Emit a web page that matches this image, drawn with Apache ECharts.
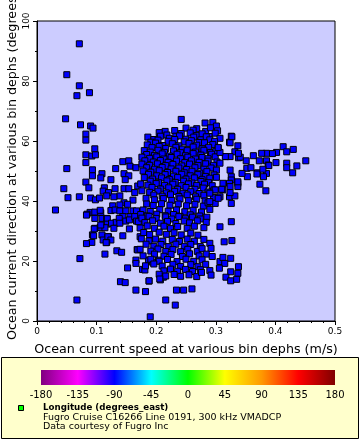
<!DOCTYPE html>
<html>
<head>
<meta charset="utf-8">
<script src="https://cdn.jsdelivr.net/npm/echarts@6/dist/echarts.min.js"></script>
<style>
  html, body { margin: 0; padding: 0; background: #fff; }
  #container { width: 360px; height: 440px; }
</style>
</head>
<body>
<div id="container"></div>
<script>
// speed (m/s), direction (degrees_north)
var outliers = [
  [0.071, 92.4], [0.050, 82.1], [0.071, 78.4], [0.067, 75.1], [0.088, 76.1],
  [0.048, 67.4], [0.242, 67.2], [0.031, 37.0], [0.045, 44.1], [0.050, 50.8],
  [0.052, 41.1], [0.071, 41.4], [0.072, 20.8], [0.067, 7.0], [0.190, 1.4],
  [0.216, 7.0], [0.232, 5.3]
];
var leftWing = [
  [0.073, 65.4], [0.090, 65.0], [0.094, 64.3], [0.082, 62.3], [0.082, 60.3],
  [0.097, 57.4], [0.082, 55.4], [0.092, 55.0], [0.098, 55.4], [0.082, 52.8],
  [0.093, 50.4], [0.109, 49.1], [0.093, 48.4], [0.107, 47.7], [0.124, 47.1],
  [0.132, 50.8], [0.144, 53.1], [0.154, 53.4], [0.156, 51.6], [0.166, 51.1],
  [0.146, 49.1], [0.154, 48.4], [0.148, 47.1], [0.082, 46.3], [0.087, 44.4],
  [0.090, 41.0], [0.098, 40.4], [0.105, 41.0], [0.113, 44.4], [0.111, 43.3],
  [0.120, 42.8], [0.117, 41.7], [0.131, 44.1], [0.146, 44.1], [0.139, 41.7],
  [0.129, 41.4], [0.154, 44.1], [0.164, 42.8], [0.169, 45.0], [0.146, 39.4],
  [0.161, 40.3], [0.127, 38.4], [0.139, 38.7], [0.152, 38.9], [0.089, 36.2],
  [0.084, 35.6], [0.097, 36.3], [0.107, 36.1], [0.097, 34.2], [0.109, 34.2],
  [0.117, 34.2], [0.124, 36.8], [0.131, 37.0], [0.139, 36.7], [0.149, 36.7],
  [0.161, 36.7], [0.167, 36.7], [0.144, 34.8], [0.156, 34.8], [0.166, 34.8],
  [0.106, 36.9], [0.118, 34.1], [0.106, 31.2], [0.118, 32.3], [0.131, 32.6],
  [0.097, 30.9], [0.093, 28.7], [0.109, 28.7], [0.120, 28.1], [0.083, 35.3],
  [0.125, 32.6], [0.133, 32.9], [0.138, 34.2], [0.139, 32.6], [0.149, 33.3],
  [0.155, 33.7], [0.164, 34.8], [0.167, 33.3], [0.170, 33.1], [0.173, 28.1],
  [0.155, 30.7], [0.144, 28.4], [0.129, 30.9], [0.114, 31.1], [0.107, 32.0],
  [0.096, 30.7], [0.095, 28.4], [0.092, 26.2], [0.083, 25.8], [0.111, 27.0],
  [0.119, 28.1], [0.124, 27.0], [0.117, 26.2], [0.116, 26.1], [0.134, 23.4],
  [0.142, 22.9], [0.168, 23.8], [0.169, 23.7], [0.166, 20.3], [0.166, 19.2],
  [0.152, 17.7], [0.114, 22.3], [0.140, 13.1], [0.148, 12.8], [0.166, 10.3],
  [0.182, 9.8], [0.188, 13.3], [0.177, 17.2], [0.181, 17.0], [0.187, 20.3],
  [0.194, 19.6], [0.204, 20.3], [0.207, 13.7], [0.212, 14.6], [0.234, 10.3],
  [0.246, 10.3], [0.260, 10.7]
];
var core = [
  [0.282, 66.0], [0.295, 66.2], [0.301, 65.0], [0.303, 63.4], [0.268, 64.1], [0.283, 63.2], [0.215, 63.2],
  [0.231, 63.5], [0.250, 64.3], [0.242, 62.5], [0.205, 62.8], [0.262, 63.6], [0.291, 64.4],
  [0.218, 62.0], [0.233, 61.6], [0.257, 62.7], [0.268, 61.8], [0.277, 62.4], [0.289, 61.5], [0.299, 62.6],
  [0.186, 61.3], [0.196, 60.5], [0.207, 61.6], [0.222, 60.9], [0.239, 61.7], [0.250, 60.6], [0.263, 61.3],
  [0.275, 60.4], [0.284, 61.4], [0.307, 60.9], [0.326, 61.6],
  [0.191, 59.6], [0.203, 60.3], [0.220, 59.9], [0.231, 60.5], [0.247, 59.7], [0.259, 60.1], [0.272, 59.5],
  [0.290, 60.4], [0.298, 59.9],
  [0.185, 58.7], [0.199, 59.3], [0.211, 58.5], [0.227, 59.1], [0.238, 58.4], [0.255, 59.2], [0.268, 58.6],
  [0.281, 59.4], [0.295, 58.8], [0.323, 59.6], [0.337, 58.4],
  [0.193, 57.8], [0.205, 58.2], [0.216, 57.5], [0.233, 57.9], [0.244, 57.3], [0.262, 58.0], [0.277, 57.4],
  [0.288, 57.9], [0.304, 57.6],
  [0.180, 56.8], [0.190, 56.3], [0.203, 56.9], [0.214, 56.2], [0.229, 56.7], [0.241, 56.1], [0.252, 56.8],
  [0.266, 56.3], [0.280, 56.9], [0.291, 56.2], [0.300, 56.6], [0.332, 56.4],
  [0.184, 55.5], [0.197, 55.2], [0.210, 55.7], [0.222, 55.0], [0.235, 55.6], [0.249, 55.1], [0.262, 55.8],
  [0.275, 55.3], [0.293, 55.6],
  [0.176, 54.6], [0.189, 54.2], [0.201, 54.7], [0.213, 54.0], [0.225, 54.5], [0.241, 54.1], [0.253, 54.6],
  [0.266, 54.0], [0.277, 54.5], [0.287, 54.1], [0.299, 54.7], [0.317, 54.8], [0.324, 54.8], [0.338, 54.4],
  [0.181, 53.4], [0.195, 53.0], [0.207, 53.5], [0.220, 52.9], [0.234, 53.3], [0.248, 52.8], [0.259, 53.4],
  [0.272, 52.9], [0.287, 53.3], [0.302, 53.0],
  [0.176, 52.3], [0.189, 51.9], [0.202, 52.4], [0.216, 51.8], [0.228, 52.2], [0.243, 51.7], [0.256, 52.3],
  [0.270, 51.8], [0.283, 52.4], [0.296, 51.9], [0.307, 52.6],
  [0.184, 51.1], [0.197, 50.6], [0.210, 51.2], [0.225, 50.7], [0.238, 51.0], [0.251, 50.5], [0.265, 51.1],
  [0.280, 50.6], [0.292, 51.0],
  [0.178, 50.0], [0.191, 49.6], [0.205, 50.1], [0.219, 49.5], [0.233, 49.9], [0.247, 49.4], [0.260, 49.9],
  [0.273, 49.3], [0.285, 49.8], [0.301, 50.3], [0.324, 50.3],
  [0.187, 48.9], [0.201, 48.4], [0.215, 48.8], [0.229, 48.3], [0.243, 48.9], [0.257, 48.4], [0.270, 48.8],
  [0.283, 48.2], [0.297, 48.7],
  [0.180, 47.8], [0.194, 47.3], [0.209, 47.7], [0.222, 47.2], [0.236, 47.8], [0.250, 47.3], [0.264, 47.7],
  [0.277, 47.1], [0.290, 47.6], [0.301, 47.9], [0.326, 48.1],
  [0.190, 46.6], [0.204, 46.1], [0.218, 46.7], [0.232, 46.2], [0.246, 46.6], [0.260, 46.0], [0.275, 46.5],
  [0.288, 46.1], [0.326, 47.0],
  [0.174, 45.7], [0.186, 45.3], [0.200, 45.8], [0.214, 45.2], [0.228, 45.6], [0.242, 45.1], [0.254, 45.7],
  [0.268, 45.2], [0.281, 45.6], [0.294, 45.1], [0.312, 45.9], [0.323, 45.9], [0.337, 45.9],
  [0.193, 44.5], [0.207, 44.0], [0.221, 44.4], [0.236, 43.9], [0.250, 44.5], [0.265, 43.9], [0.279, 44.3],
  [0.176, 43.4], [0.189, 42.9], [0.203, 43.3], [0.217, 42.7], [0.231, 43.2], [0.245, 42.6], [0.258, 43.1],
  [0.272, 42.5], [0.287, 43.0], [0.297, 43.7], [0.312, 43.7],
  [0.196, 42.0], [0.210, 41.6], [0.224, 42.1], [0.238, 41.5], [0.252, 42.0], [0.266, 41.4], [0.280, 41.9],
  [0.183, 40.9], [0.197, 40.4], [0.212, 40.8], [0.226, 40.2], [0.240, 40.7], [0.254, 40.1], [0.268, 40.6],
  [0.282, 40.0], [0.296, 41.2], [0.307, 41.4], [0.323, 41.4], [0.332, 41.7],
  [0.184, 39.0], [0.195, 38.5], [0.209, 39.1], [0.223, 38.6], [0.237, 39.0], [0.251, 38.4], [0.265, 38.9],
  [0.279, 38.3], [0.287, 39.4], [0.299, 39.2], [0.326, 39.2],
  [0.178, 37.0], [0.190, 36.5], [0.206, 37.1], [0.220, 36.6], [0.234, 37.0], [0.248, 36.4], [0.262, 36.9],
  [0.276, 36.3], [0.290, 37.2],
  [0.174, 35.5], [0.185, 35.0], [0.201, 35.6], [0.215, 35.1], [0.229, 35.5], [0.240, 34.9], [0.257, 35.4],
  [0.273, 35.0]
];
var lowerLobe = [
  [0.176, 34.3], [0.188, 34.9], [0.200, 34.2], [0.216, 34.7], [0.226, 34.0], [0.238, 34.8], [0.249, 34.1],
  [0.261, 34.6], [0.274, 34.0], [0.285, 34.6],
  [0.181, 32.8], [0.194, 33.4], [0.207, 32.6], [0.219, 33.2], [0.233, 32.5], [0.247, 33.3], [0.256, 32.7],
  [0.269, 33.4], [0.284, 32.9], [0.326, 33.1],
  [0.173, 31.0], [0.185, 31.7], [0.197, 30.9], [0.213, 31.6], [0.224, 30.8], [0.236, 31.5], [0.252, 30.9],
  [0.264, 31.6], [0.280, 31.1], [0.307, 31.4],
  [0.179, 29.5], [0.189, 28.8], [0.205, 29.6], [0.217, 28.9], [0.230, 29.4], [0.242, 28.7], [0.258, 29.3],
  [0.270, 28.6],
  [0.175, 27.4], [0.188, 26.7], [0.199, 27.3], [0.211, 26.6], [0.227, 27.2], [0.239, 26.5], [0.252, 27.3],
  [0.264, 26.6], [0.280, 27.2], [0.314, 26.4], [0.327, 26.8],
  [0.183, 25.6], [0.196, 24.9], [0.208, 25.5], [0.221, 24.8], [0.233, 25.6], [0.247, 24.9], [0.258, 25.5],
  [0.274, 24.8], [0.290, 25.9],
  [0.173, 23.9], [0.191, 23.3], [0.203, 24.0], [0.216, 23.2], [0.228, 23.8], [0.241, 23.1], [0.253, 23.9],
  [0.269, 23.2], [0.277, 24.1], [0.292, 24.2],
  [0.178, 21.7], [0.197, 22.3], [0.213, 21.6], [0.225, 22.2], [0.244, 21.5], [0.256, 22.4], [0.272, 21.7],
  [0.284, 22.3], [0.294, 21.5],
  [0.191, 20.6], [0.205, 19.9], [0.219, 20.5], [0.235, 19.8], [0.250, 20.6], [0.263, 19.9], [0.277, 20.4],
  [0.307, 19.8], [0.325, 20.9], [0.312, 21.2],
  [0.182, 18.4], [0.196, 19.0], [0.210, 18.3], [0.228, 18.9], [0.241, 18.2], [0.258, 18.8], [0.270, 18.1],
  [0.283, 18.9], [0.315, 19.2],
  [0.213, 16.7], [0.224, 17.3], [0.236, 16.6], [0.249, 17.2], [0.261, 16.5], [0.274, 17.1], [0.290, 16.8],
  [0.306, 17.6], [0.338, 18.1],
  [0.205, 15.6], [0.216, 15.0], [0.230, 15.5], [0.241, 14.9], [0.255, 15.4], [0.268, 14.8], [0.292, 15.3],
  [0.325, 16.4], [0.337, 15.9],
  [0.276, 16.2], [0.206, 14.0], [0.188, 13.4], [0.317, 14.6], [0.325, 13.4], [0.335, 13.9]
];
var rightWing = [
  [0.413, 58.1], [0.430, 57.2], [0.419, 56.4], [0.402, 56.2], [0.395, 55.8],
  [0.385, 55.9], [0.377, 55.9], [0.451, 53.4], [0.436, 51.7], [0.419, 52.6],
  [0.419, 51.1], [0.429, 49.4], [0.401, 52.8], [0.385, 53.4], [0.388, 52.0],
  [0.373, 53.4], [0.363, 55.1], [0.351, 53.4], [0.352, 50.9], [0.341, 54.6],
  [0.338, 55.9], [0.327, 61.4], [0.324, 59.4], [0.316, 54.8], [0.307, 56.2],
  [0.304, 57.8], [0.370, 49.4], [0.385, 49.2], [0.380, 48.1], [0.369, 49.0],
  [0.374, 45.6], [0.384, 43.4], [0.353, 48.1], [0.344, 49.2], [0.337, 44.8],
  [0.337, 46.4], [0.324, 44.8], [0.324, 42.8], [0.310, 43.9], [0.299, 43.7],
  [0.290, 42.6], [0.290, 39.8], [0.304, 40.9], [0.389, 51.8], [0.359, 51.1],
  [0.379, 50.6]
];
var colorStops = ['#800080', '#ff00ff', '#0000ff', '#00ffff', '#00ff00', '#ffff00', '#ff9900', '#ff0000', '#800000'];
var colorLabels = ['-180', '-135', '-90', '-45', '0', '45', '90', '135', '180'];

var points = outliers.concat(leftWing, core, lowerLobe, rightWing);

var dom = document.getElementById('container');
var myChart = echarts.init(dom);
var FONT = 'DejaVu Sans';

// colour bar + legend box
var barLeft = 41, barRight = 335, barTop = 370, barH = 15;
var graphics = [
  {
    type: 'rect', shape: { x: 1.5, y: 357.5, width: 357, height: 81 },
    style: { fill: '#ffffcc', stroke: '#000', lineWidth: 1 }
  },
  {
    type: 'rect', shape: { x: barLeft, y: barTop, width: barRight - barLeft, height: barH },
    style: {
      fill: new echarts.graphic.LinearGradient(0, 0, 1, 0, colorStops.map(function (c, i) {
        return { offset: i / (colorStops.length - 1), color: c };
      }))
    }
  },
  {
    type: 'rect', shape: { x: 18.5, y: 405.5, width: 5, height: 5 },
    style: { fill: '#00ff00', stroke: '#000', lineWidth: 1 }
  },
  {
    type: 'text', x: 43, y: 408,
    style: { text: 'Longitude (degrees_east)', font: 'bold 8.7px "DejaVu Sans"', fill: '#000', verticalAlign: 'middle' }
  },
  {
    type: 'text', x: 43, y: 417.5,
    style: { text: 'Fugro Cruise C16266 Line 0191, 300 kHz VMADCP', font: '9.5px "DejaVu Sans"', fill: '#000', verticalAlign: 'middle' }
  },
  {
    type: 'text', x: 43, y: 427,
    style: { text: 'Data courtesy of Fugro Inc', font: '9.5px "DejaVu Sans"', fill: '#000', verticalAlign: 'middle' }
  },
  {
    type: 'text', x: 13, y: 340, rotation: Math.PI / 2,
    style: { text: 'Ocean current direction at various bin dephs (degrees_north)', font: '12.7px "DejaVu Sans"', fill: '#000', align: 'left', verticalAlign: 'middle' }
  }
];
colorLabels.forEach(function (t, i) {
  graphics.push({
    type: 'text', x: barLeft + i * (barRight - barLeft) / (colorLabels.length - 1), y: 395,
    style: { text: t, font: '10px "DejaVu Sans"', fill: '#000', align: 'center', verticalAlign: 'middle' }
  });
});

var option = {
  animation: false,
  backgroundColor: '#fff',
  textStyle: { fontFamily: FONT },
  grid: {
    left: 37, top: 21, right: 25, bottom: 119,
    show: true, backgroundColor: '#ccccff', borderColor: '#000', borderWidth: 1
  },
  xAxis: {
    type: 'value', min: 0, max: 0.5, interval: 0.1,
    name: 'Ocean current speed at various bin dephs (m/s)',
    nameLocation: 'middle', nameGap: 22,
    nameTextStyle: { fontFamily: FONT, fontSize: 12.7, color: '#000' },
    axisLine: { show: true, lineStyle: { color: '#000' } },
    axisTick: { show: true, length: 4, lineStyle: { color: '#000' } },
    minorTick: { show: true, splitNumber: 5, length: 2, lineStyle: { color: '#000' } },
    splitLine: { show: false },
    axisLabel: { fontFamily: FONT, fontSize: 9, color: '#000', margin: 6 }
  },
  yAxis: {
    type: 'value', min: 0, max: 100, interval: 20,
    axisLine: { show: true, lineStyle: { color: '#000' } },
    axisTick: { show: true, length: 4, lineStyle: { color: '#000' } },
    minorTick: { show: true, splitNumber: 2, length: 2, lineStyle: { color: '#000' } },
    splitLine: { show: false },
    axisLabel: { fontFamily: FONT, fontSize: 9, color: '#000', rotate: 90, margin: 6 }
  },
  graphic: graphics,
  series: [{
    type: 'scatter',
    symbol: 'rect',
    symbolSize: 6,
    clip: true,
    itemStyle: { color: '#0000ff', borderColor: '#000', borderWidth: 1, opacity: 1 },
    data: points
  }]
};
myChart.setOption(option);
</script>
</body>
</html>
